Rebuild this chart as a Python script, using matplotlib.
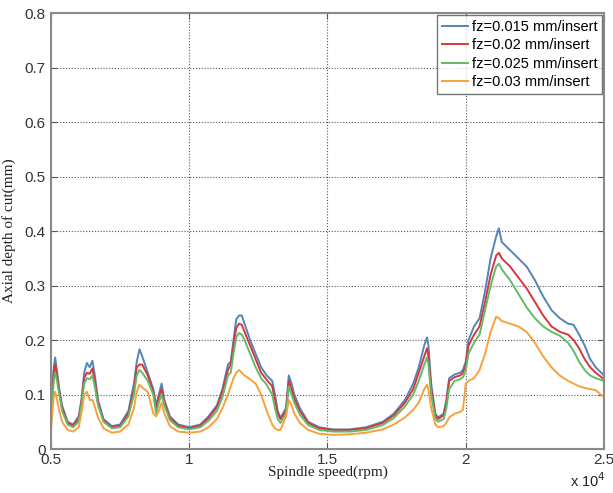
import matplotlib
matplotlib.use("Agg")
import matplotlib.pyplot as plt

# Spindle speed (x 10^4 rpm)
speed = [0.50, 0.505, 0.51, 0.515, 0.52, 0.53, 0.54, 0.56, 0.58, 0.60,
         0.61, 0.62, 0.63, 0.64, 0.65, 0.66, 0.67, 0.69, 0.72, 0.75,
         0.78, 0.80, 0.81, 0.82, 0.83, 0.85, 0.87, 0.88, 0.89, 0.90,
         0.91, 0.93, 0.96, 1.00, 1.04, 1.07, 1.10, 1.12, 1.14, 1.15,
         1.16, 1.17, 1.18, 1.19, 1.20, 1.22, 1.24, 1.26, 1.28, 1.30,
         1.31, 1.32, 1.33, 1.35, 1.36, 1.37, 1.38, 1.40, 1.43, 1.47,
         1.52, 1.58, 1.64, 1.70, 1.74, 1.78, 1.81, 1.83, 1.85, 1.86,
         1.865, 1.875, 1.89, 1.90, 1.92, 1.93, 1.94, 1.96, 1.98, 1.99,
         2.00, 2.01, 2.03, 2.05, 2.07, 2.09, 2.11, 2.12, 2.13, 2.16,
         2.19, 2.22, 2.25, 2.28, 2.31, 2.34, 2.37, 2.39, 2.41, 2.43,
         2.45, 2.47, 2.50]

# Stability limit (axial depth of cut, mm) for each feed per tooth
depth_fz015 = [0.050, 0.110, 0.150, 0.168, 0.150, 0.110, 0.080, 0.050, 0.045, 0.060,
               0.090, 0.140, 0.158, 0.150, 0.162, 0.130, 0.090, 0.055, 0.042, 0.045,
               0.070, 0.120, 0.160, 0.183, 0.170, 0.140, 0.110, 0.080, 0.100, 0.120,
               0.090, 0.060, 0.045, 0.040, 0.045, 0.060, 0.080, 0.110, 0.155, 0.160,
               0.200, 0.238, 0.245, 0.245, 0.230, 0.200, 0.175, 0.150, 0.135, 0.125,
               0.100, 0.070, 0.057, 0.075, 0.135, 0.120, 0.100, 0.075, 0.050, 0.040,
               0.036, 0.036, 0.040, 0.050, 0.065, 0.090, 0.120, 0.150, 0.190, 0.205,
               0.190, 0.120, 0.065, 0.058, 0.065, 0.090, 0.130, 0.137, 0.140, 0.145,
               0.160, 0.200, 0.225, 0.240, 0.290, 0.350, 0.390, 0.405, 0.380, 0.365,
               0.350, 0.335, 0.310, 0.280, 0.255, 0.240, 0.230, 0.228, 0.210, 0.190,
               0.165, 0.150, 0.135]

depth_fz020 = [0.050, 0.100, 0.140, 0.155, 0.140, 0.105, 0.075, 0.048, 0.043, 0.055,
               0.085, 0.130, 0.140, 0.138, 0.148, 0.120, 0.085, 0.052, 0.040, 0.043,
               0.065, 0.110, 0.150, 0.155, 0.155, 0.135, 0.105, 0.075, 0.095, 0.110,
               0.085, 0.057, 0.043, 0.038, 0.043, 0.057, 0.077, 0.105, 0.145, 0.155,
               0.190, 0.222, 0.230, 0.228, 0.215, 0.190, 0.165, 0.140, 0.127, 0.115,
               0.090, 0.065, 0.055, 0.070, 0.125, 0.110, 0.092, 0.070, 0.048, 0.038,
               0.035, 0.035, 0.038, 0.048, 0.062, 0.085, 0.110, 0.140, 0.170, 0.185,
               0.170, 0.110, 0.062, 0.055, 0.062, 0.085, 0.125, 0.132, 0.135, 0.140,
               0.155, 0.190, 0.210, 0.225, 0.270, 0.320, 0.355, 0.360, 0.350, 0.335,
               0.315, 0.295, 0.270, 0.245, 0.225, 0.215, 0.210, 0.200, 0.185, 0.165,
               0.150, 0.140, 0.128]

depth_fz025 = [0.045, 0.090, 0.125, 0.140, 0.130, 0.100, 0.070, 0.045, 0.040, 0.050,
               0.080, 0.120, 0.130, 0.128, 0.135, 0.110, 0.080, 0.050, 0.038, 0.040,
               0.060, 0.100, 0.135, 0.145, 0.140, 0.125, 0.100, 0.065, 0.085, 0.100,
               0.080, 0.053, 0.040, 0.036, 0.040, 0.052, 0.070, 0.095, 0.135, 0.140,
               0.175, 0.205, 0.213, 0.210, 0.200, 0.175, 0.150, 0.130, 0.118, 0.100,
               0.075, 0.055, 0.048, 0.065, 0.115, 0.100, 0.085, 0.063, 0.044, 0.035,
               0.032, 0.032, 0.035, 0.044, 0.057, 0.078, 0.100, 0.125, 0.155, 0.168,
               0.155, 0.100, 0.055, 0.050, 0.055, 0.075, 0.110, 0.125, 0.128, 0.132,
               0.145, 0.175, 0.195, 0.210, 0.255, 0.300, 0.335, 0.340, 0.330, 0.310,
               0.285, 0.260, 0.240, 0.225, 0.215, 0.208, 0.195, 0.180, 0.160, 0.145,
               0.135, 0.130, 0.125]

depth_fz030 = [0.035, 0.070, 0.095, 0.105, 0.095, 0.070, 0.050, 0.035, 0.032, 0.040,
               0.065, 0.100, 0.105, 0.090, 0.090, 0.075, 0.058, 0.038, 0.030, 0.032,
               0.045, 0.075, 0.105, 0.118, 0.113, 0.105, 0.065, 0.060, 0.070, 0.085,
               0.065, 0.042, 0.032, 0.030, 0.032, 0.040, 0.055, 0.075, 0.100, 0.115,
               0.130, 0.140, 0.145, 0.140, 0.135, 0.128, 0.120, 0.100, 0.070, 0.045,
               0.038, 0.035, 0.035, 0.060, 0.090, 0.080, 0.065, 0.048, 0.035, 0.028,
               0.026, 0.027, 0.030, 0.036, 0.045, 0.058, 0.072, 0.085, 0.110, 0.118,
               0.110, 0.075, 0.045, 0.040, 0.042, 0.048, 0.058, 0.065, 0.068, 0.072,
               0.120, 0.125, 0.130, 0.145, 0.175, 0.215, 0.243, 0.240, 0.235, 0.230,
               0.225, 0.215, 0.195, 0.170, 0.150, 0.135, 0.125, 0.120, 0.115, 0.112,
               0.110, 0.108, 0.095]

labels = ["fz=0.015 mm/insert", "fz=0.02 mm/insert",
          "fz=0.025 mm/insert", "fz=0.03 mm/insert"]
colors = ["#5585b8", "#d8363f", "#63ba68", "#f5a23c"]

x_ticks = [0.5, 1.0, 1.5, 2.0, 2.5]
x_ticklabels = ["0.5", "1", "1.5", "2", "2.5"]
y_ticks = [0.0, 0.1, 0.2, 0.3, 0.4, 0.5, 0.6, 0.7, 0.8]
y_ticklabels = ["0", "0.1", "0.2", "0.3", "0.4", "0.5", "0.6", "0.7", "0.8"]

sans = ["Liberation Sans", "DejaVu Sans"]
serif = ["Liberation Serif", "DejaVu Serif"]

fig = plt.figure(figsize=(6.13, 4.93), dpi=100)
ax = fig.add_axes([0.0832, 0.0892, 0.9021, 0.8844])

series = [depth_fz015, depth_fz020, depth_fz025, depth_fz030]
for ys, lab, col in zip(series, labels, colors):
    ax.plot(speed, ys, color=col, lw=1.4, label=lab)

ax.set_xlim(0.5, 2.5)
ax.set_ylim(0, 0.8)
ax.set_xticks(x_ticks)
ax.set_xticklabels(x_ticklabels, family=sans, fontsize=11, color="#333333")
ax.set_yticks(y_ticks)
ax.set_yticklabels(y_ticklabels, family=sans, fontsize=11, color="#333333")
ax.tick_params(axis="x", direction="in", length=4, width=0.8, color="#555555",
               top=True, pad=3)
ax.tick_params(axis="y", direction="in", length=4, width=0.8, color="#555555",
               right=True, pad=4)

ax.grid(True, linestyle=(0, (1, 1.6)), color="#555555", lw=0.8)

for s in ax.spines.values():
    s.set_color("#8a8a8a")
    s.set_linewidth(1.5)

ax.set_xlabel("Spindle speed(rpm)", family=serif, fontsize=11,
              color="#222222", labelpad=-1)
ax.set_ylabel("Axial depth of cut(mm)", family=serif, fontsize=11,
              color="#222222", labelpad=6)

fig.text(0.988, 0.006, r"x 10$^{4}$", family=sans, fontsize=10.5,
         color="#222222", ha="right", va="bottom")

leg = ax.legend(loc="upper right", prop={"family": sans, "size": 10.5},
                frameon=True, fancybox=False, borderaxespad=0.12,
                handlelength=1.8, handletextpad=0.25, labelspacing=0.3,
                borderpad=0.35)
leg.get_frame().set_edgecolor("#555555")
leg.get_frame().set_linewidth(1.0)

fig.savefig("out.png", dpi=100)
